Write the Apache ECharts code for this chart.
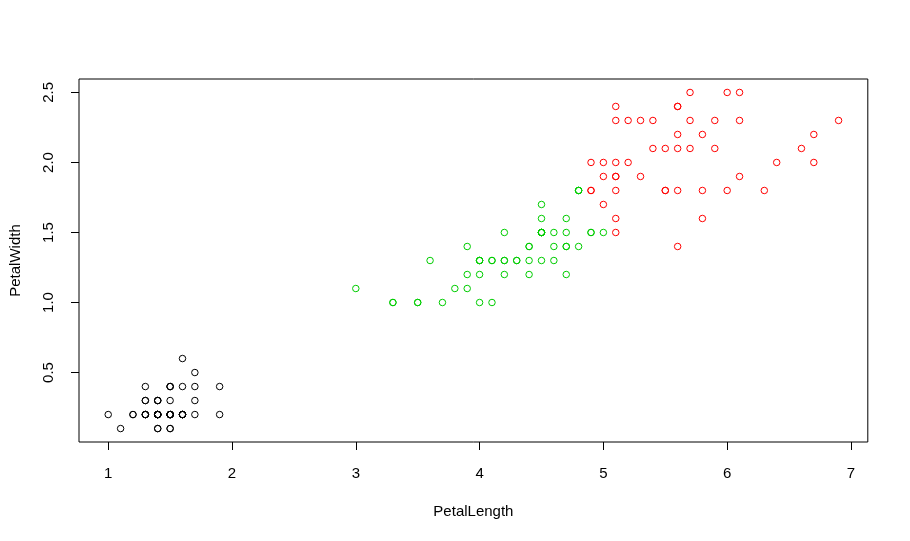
<!DOCTYPE html>
<html>
<head>
<meta charset="utf-8">
<script src="https://cdn.jsdelivr.net/npm/echarts@6/dist/echarts.min.js"></script>
<style>html,body{margin:0;padding:0;background:#fff;}#c{width:910px;height:541px;}</style>
</head>
<body>
<div id="c"></div>
<script>
// Cluster 1 (black) — [PetalLength, PetalWidth]
var cluster1 = [
 [1.4,0.2],[1.4,0.2],[1.3,0.2],[1.5,0.2],[1.4,0.2],[1.7,0.4],[1.4,0.3],[1.5,0.2],[1.4,0.2],[1.5,0.1],
 [1.5,0.2],[1.6,0.2],[1.4,0.1],[1.1,0.1],[1.2,0.2],[1.5,0.4],[1.3,0.4],[1.4,0.3],[1.7,0.3],[1.5,0.3],
 [1.7,0.2],[1.5,0.4],[1.0,0.2],[1.7,0.5],[1.9,0.2],[1.6,0.2],[1.6,0.4],[1.5,0.2],[1.4,0.2],[1.6,0.2],
 [1.6,0.2],[1.5,0.4],[1.5,0.1],[1.4,0.2],[1.5,0.2],[1.2,0.2],[1.3,0.2],[1.4,0.1],[1.3,0.2],[1.5,0.2],
 [1.3,0.3],[1.3,0.3],[1.3,0.2],[1.6,0.6],[1.9,0.4],[1.4,0.3],[1.6,0.2],[1.4,0.2],[1.5,0.2],[1.4,0.2]
];
// Cluster 2 (red)
var cluster2 = [
 [5.0,1.7],[5.1,1.6],
 [6.0,2.5],[5.1,1.9],[5.9,2.1],[5.6,1.8],[5.8,2.2],[6.6,2.1],[6.3,1.8],[5.8,1.8],[6.1,2.5],
 [5.1,2.0],[5.3,1.9],[5.5,2.1],[5.0,2.0],[5.1,2.4],[5.3,2.3],[5.5,1.8],[6.7,2.2],[6.9,2.3],
 [5.7,2.3],[4.9,2.0],[6.7,2.0],[4.9,1.8],[5.7,2.1],[6.0,1.8],[4.9,1.8],[5.6,2.1],[5.8,1.6],
 [6.1,1.9],[6.4,2.0],[5.6,2.2],[5.1,1.5],[5.6,1.4],[6.1,2.3],[5.6,2.4],[5.5,1.8],[5.4,2.1],
 [5.6,2.4],[5.1,2.3],[5.1,1.9],[5.9,2.3],[5.7,2.5],[5.2,2.3],[5.0,1.9],[5.2,2.0],[5.4,2.3],[5.1,1.8]
];
// Cluster 3 (green)
var cluster3 = [
 [4.7,1.4],[4.5,1.5],[4.9,1.5],[4.0,1.3],[4.6,1.5],[4.5,1.3],[4.7,1.6],[3.3,1.0],[4.6,1.3],[3.9,1.4],
 [3.5,1.0],[4.2,1.5],[4.0,1.0],[4.7,1.4],[3.6,1.3],[4.4,1.4],[4.5,1.5],[4.1,1.0],[4.5,1.5],[3.9,1.1],
 [4.8,1.8],[4.0,1.3],[4.9,1.5],[4.7,1.2],[4.3,1.3],[4.4,1.4],[4.8,1.4],[4.5,1.5],[3.5,1.0],
 [3.8,1.1],[3.7,1.0],[3.9,1.2],[4.5,1.5],[4.5,1.6],[4.7,1.5],[4.4,1.3],[4.1,1.3],[4.0,1.3],[4.4,1.2],
 [4.6,1.4],[4.0,1.2],[3.3,1.0],[4.2,1.3],[4.2,1.2],[4.2,1.3],[4.3,1.3],[3.0,1.1],[4.1,1.3],
 [4.5,1.7],[5.0,1.5],[4.8,1.8],[4.8,1.8]
];
var xTicks = [1, 2, 3, 4, 5, 6, 7];
var yTicks = [0.5, 1.0, 1.5, 2.0, 2.5];
var xTitle = 'PetalLength';
var yTitle = 'PetalWidth';

var FONT = '"Liberation Sans", Arial, sans-serif';
function mk(data, col) {
  return {
    type: 'scatter', data: data, symbol: 'circle', symbolSize: 6.5,
    itemStyle: { color: 'rgba(0,0,0,0)', borderColor: col, borderWidth: 1, opacity: 1 },
    emphasis: { disabled: true }, animation: false
  };
}
var chart = echarts.init(document.getElementById('c'), null, { renderer: 'canvas' });
chart.setOption({
  backgroundColor: '#fff',
  animation: false,
  grid: { left: 78.8, right: 42.2, top: 79, bottom: 99, show: true, borderColor: '#000', borderWidth: 1, backgroundColor: 'transparent' },
  xAxis: {
    type: 'value', min: 0.764, max: 7.136,
    name: xTitle, nameLocation: 'middle', nameGap: 62,
    nameTextStyle: { fontFamily: FONT, fontSize: 15, color: '#000' },
    splitLine: { show: false },
    axisLine: { show: false },
    axisTick: { show: true, length: 8, customValues: xTicks, lineStyle: { color: '#000' } },
    axisLabel: { customValues: xTicks, margin: 24, fontFamily: FONT, fontSize: 15, color: '#000',
      formatter: function (v) { return String(v); } }
  },
  yAxis: {
    type: 'value', min: 0.004, max: 2.596,
    name: yTitle, nameLocation: 'middle', nameGap: 56,
    nameTextStyle: { fontFamily: FONT, fontSize: 15, color: '#000' },
    splitLine: { show: false },
    axisLine: { show: false },
    axisTick: { show: true, length: 8, customValues: yTicks, lineStyle: { color: '#000' } },
    axisLabel: { customValues: yTicks, margin: 23, rotate: 90, fontFamily: FONT, fontSize: 15, color: '#000',
      formatter: function (v) { return v.toFixed(1); } }
  },
  series: [mk(cluster1, '#000000'), mk(cluster3, '#00CD00'), mk(cluster2, '#FF0000')]
});
</script>
</body>
</html>
